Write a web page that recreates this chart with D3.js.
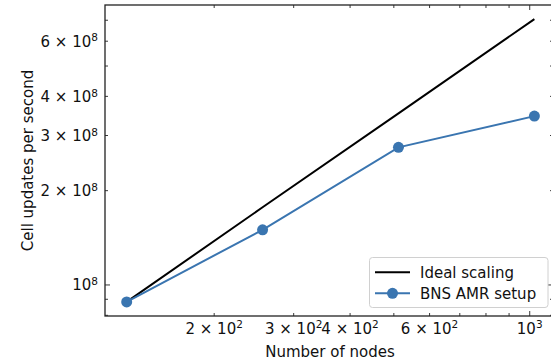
<!DOCTYPE html>
<html>
<head>
<meta charset="utf-8">
<script src="https://cdn.jsdelivr.net/npm/d3@7"></script>
<style>
  body { margin: 0; background: #fff; }
  svg { display: block; font-family: "DejaVu Sans", sans-serif; }
</style>
</head>
<body>
<svg id="chart" width="551" height="360"></svg>
<script>
// data
const nodes = [128, 256, 512, 1024];
const bnsRate = [8.83e7, 1.50e8, 2.75e8, 3.46e8];
const idealRate = [8.83e7, 1.77e8, 3.53e8, 7.06e8];

const xLabelTicks = [200, 300, 400, 600, 1000];
const yLabelTicks = [1e8, 2e8, 3e8, 4e8, 6e8];

const seriesNames = ['Ideal scaling', 'BNS AMR setup'];

const blue = '#3a75b0';

const margin = {top: 5, right: -2, bottom: 44, left: 105},
    width = 551, height = 360;

const svg = d3.select('#chart');

const x = d3.scaleLog()
    .domain([114.6, 1126])
    .range([margin.left, width - margin.right]);

const y = d3.scaleLog()
    .domain([7.96e7, 7.83e8])
    .range([height - margin.bottom, margin.top]);

// every 1..9 x 10^k inside a domain
function logTicks(scale) {
  const [a, b] = scale.domain();
  const out = [];
  for (let k = Math.floor(Math.log10(a)); k <= Math.ceil(Math.log10(b)); k++) {
    for (let m = 1; m < 10; m++) {
      const v = m * Math.pow(10, k);
      if (v >= a && v <= b) out.push({v: v, major: m === 1});
    }
  }
  return out;
}

// mathtext-ish label: "m × 10^k"
function sciLabel(sel, v) {
  const k = Math.floor(Math.log10(v) + 1e-9);
  const m = Math.round(v / Math.pow(10, k));
  sel.append('tspan').text((m === 1 ? '' : m + ' \u00d7 ') + '10');
  sel.append('tspan').attr('font-size', 10.5).attr('dy', -5.3).text(k);
}

const x0 = x.range()[0], x1 = x.range()[1];
const y0 = y.range()[0], y1 = y.range()[1];

const ticksG = svg.append('g').attr('stroke', '#222').attr('stroke-width', 0.9);

logTicks(x).forEach(function(t) {
  const len = t.major ? 5 : 3, px = x(t.v);
  ticksG.append('line').attr('x1', px).attr('x2', px).attr('y1', y0).attr('y2', y0 - len);
  ticksG.append('line').attr('x1', px).attr('x2', px).attr('y1', y1).attr('y2', y1 + len);
});
logTicks(y).forEach(function(t) {
  const len = t.major ? 5 : 3, py = y(t.v);
  ticksG.append('line').attr('x1', x0).attr('x2', x0 + len).attr('y1', py).attr('y2', py);
  ticksG.append('line').attr('x1', x1).attr('x2', x1 - len).attr('y1', py).attr('y2', py);
});

// tick labels
xLabelTicks.forEach(function(v) {
  const t = svg.append('text')
      .attr('x', x(v)).attr('y', 333.5)
      .attr('text-anchor', 'middle')
      .attr('font-size', 15).attr('fill', '#111');
  sciLabel(t, v);
});
yLabelTicks.forEach(function(v) {
  const t = svg.append('text')
      .attr('x', 98).attr('y', y(v) + 5.5)
      .attr('text-anchor', 'end')
      .attr('font-size', 15).attr('fill', '#111');
  sciLabel(t, v);
});

// axis titles
svg.append('text')
    .attr('x', (x0 + 551) / 2 + 2).attr('y', 357)
    .attr('text-anchor', 'middle').attr('font-size', 15).attr('fill', '#111')
    .text('Number of nodes');
svg.append('text')
    .attr('transform', 'translate(33,' + ((y0 + y1) / 2) + ') rotate(-90)')
    .attr('text-anchor', 'middle').attr('font-size', 15).attr('fill', '#111')
    .text('Cell updates per second');

// lines
const line = function(vals) {
  return d3.line()
      .x(function(d, i) { return x(nodes[i]); })
      .y(function(d) { return y(d); })(vals);
};

svg.append('path')
    .attr('d', line(idealRate))
    .attr('fill', 'none').attr('stroke', '#000').attr('stroke-width', 2);

svg.append('path')
    .attr('d', line(bnsRate))
    .attr('fill', 'none').attr('stroke', blue).attr('stroke-width', 2);

svg.selectAll('circle.pt')
    .data(bnsRate)
    .enter().append('circle')
    .attr('class', 'pt')
    .attr('cx', function(d, i) { return x(nodes[i]); })
    .attr('cy', function(d) { return y(d); })
    .attr('r', 5.5)
    .attr('fill', blue);

// frame
svg.append('rect')
    .attr('x', x0).attr('y', y1)
    .attr('width', x1 - x0).attr('height', y0 - y1)
    .attr('fill', 'none').attr('stroke', '#222').attr('stroke-width', 1.3);

// legend
const lg = svg.append('g');
lg.append('rect')
    .attr('x', 369.5).attr('y', 257.5).attr('width', 178.5).attr('height', 50)
    .attr('rx', 3).attr('fill', '#fff').attr('fill-opacity', 0.85)
    .attr('stroke', '#d0d0d0').attr('stroke-width', 1);

seriesNames.forEach(function(name, i) {
  const cy = 272.3 + i * 21;
  const col = i === 0 ? '#000' : blue;
  lg.append('line')
      .attr('x1', 375).attr('x2', 410).attr('y1', cy).attr('y2', cy)
      .attr('stroke', col).attr('stroke-width', 2);
  if (i === 1) {
    lg.append('circle').attr('cx', 392.5).attr('cy', cy).attr('r', 5.5).attr('fill', blue);
  }
  lg.append('text')
      .attr('x', 420).attr('y', cy + 5.5)
      .attr('font-size', 15).attr('fill', '#111')
      .text(name);
});
</script>
</body>
</html>
